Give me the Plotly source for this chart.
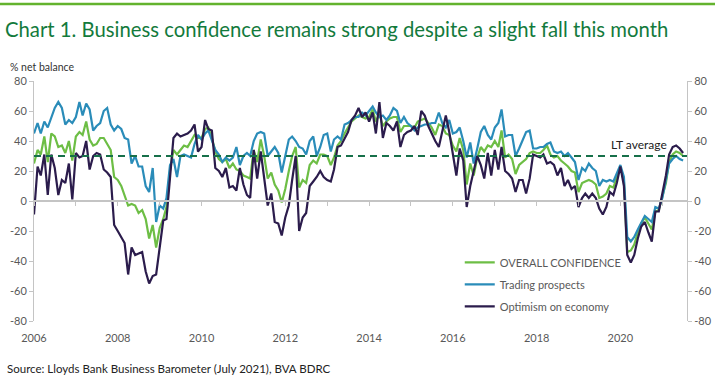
import plotly.graph_objects as go
import pandas as pd

# ---------------- data (monthly, Jan 2006 - Jul 2021) ----------------
months = pd.date_range("2006-01-01", "2021-07-01", freq="MS")

overall_confidence = [
    25, 34, 31, 43, 26, 45, 43, 36, 37, 32, 40, 27,      # 2006
    43, 46, 44, 53, 41, 37, 38, 42, 42, 38, 34, 16,      # 2007
    14, 10, 3, -3, -2, -3, -8, -6, -12, -25, -16, -31,   # 2008
    -18, -12, -4, 20, 34, 31, 34, 37, 36, 40, 44, 42,    # 2009
    42, 48, 49, 42, 33, 28, 26, 28, 22, 25, 21, 20,      # 2010
    17, 16, 15, 34, 26, 41, 30, 15, 19, 11, 7, -1,       # 2011
    8, 20, 30, 36, 9, 14, 12, 24, 27, 25, 31, 31,        # 2012
    30, 24, 29, 37, 40, 45, 49, 53, 55, 57, 56, 55,      # 2013
    56, 61, 53, 58, 50, 53, 55, 56, 56, 46, 50, 50,      # 2014
    50, 49, 53, 54, 55, 52, 49, 44, 51, 50, 45, 44,      # 2015
    37, 33, 42, 34, 11, 25, 17, 29, 36, 33, 37, 36,      # 2016
    40, 36, 47, 29, 31, 28, 18, 24, 26, 28, 32, 33,      # 2017
    32, 32, 34, 37, 31, 29, 30, 27, 25, 23, 20, 19,      # 2018
    6, 12, 13, 14, 13, 11, 2, 3, 5, 10, 9, 16,           # 2019
    23, 13, -34, -33, -29, -21, -15, -11, -15, -19, -7, -6,  # 2020
    3, 12, 26, 31, 33, 32, 30,                           # 2021
]

trading_prospects = [
    45, 52, 45, 53, 49, 56, 62, 66, 62, 51, 54, 52,
    56, 66, 57, 65, 61, 47, 50, 52, 60, 62, 51, 47,
    50, 48, 42, 41, 25, 30, 23, 23, 10, 6, 22, -14,
    -3, -5, 2, 24, 28, 16, 30, 31, 30, 29, 38, 44,
    41, 45, 47, 40, 34, 31, 26, 29, 27, 29, 36, 24,
    30, 32, 30, 40, 45, 46, 45, 30, 33, 36, 32, 19,
    30, 41, 43, 40, 36, 35, 31, 40, 43, 30, 36, 44,
    45, 33, 41, 43, 41, 51, 52, 54, 56, 56, 59, 57,
    60, 63, 59, 56, 57, 54, 57, 62, 60, 52, 56, 52,
    50, 47, 49, 50, 51, 51, 52, 52, 59, 52, 49, 54,
    45, 46, 49, 40, 29, 39, 25, 35, 46, 50, 44, 41,
    49, 52, 61, 43, 44, 44, 30, 35, 41, 46, 47, 35,
    35, 36, 36, 38, 39, 33, 32, 33, 30, 32, 29, 26,
    14, 22, 20, 25, 22, 20, 10, 14, 13, 14, 13, 19,
    24, 16, -24, -27, -24, -19, -14, -10, -12, -14, -4, -5,
    2, 13, 25, 28, 30, 28, 27,
]

optimism_economy = [
    -9, 23, 17, 31, 4, 31, 22, 4, 14, 12, 25, 1,
    32, 29, 30, 40, 21, 30, 32, 31, 21, 19, 16, -16,
    -20, -24, -28, -49, -31, -36, -35, -34, -47, -55, -50, -49,
    -31, -13, -12, 15, 42, 45, 43, 44, 45, 47, 51, 33,
    36, 54, 48, 47, 22, 20, 16, 22, 9, 10, 7, 22,
    11, 4, 2, 34, 15, 33, 17, -3, 5, -14, -15, -23,
    -11, -3, 14, 30, -20, -11, -8, 10, 13, 16, 20, 16,
    14, 13, 21, 36, 37, 42, 46, 54, 57, 62, 56, 59,
    53, 59, 45, 66, 42, 52, 50, 47, 53, 36, 44, 46,
    47, 50, 44, 60, 57, 50, 45, 40, 36, 46, 57, 46,
    31, 17, 35, 27, -4, 10, 20, 30, 24, 15, 32, 17,
    34, 21, 36, 20, 18, 15, 6, 14, 14, 5, 15, 31,
    30, 29, 31, 25, 26, 24, 17, 22, 10, 14, 8, 10,
    -4, 2, 5, 2, 5, 2, -5, -9, -4, 6, 4, 12,
    23, 10, -36, -41, -36, -25, -17, -14, -21, -27, -7, -7,
    5, 17, 31, 36, 37, 35, 32,
]

lt_average = 30
y_ticks = [-80, -60, -40, -20, 0, 20, 40, 60, 80]
y_tick_text = [str(v) for v in y_ticks]
year_ticks = [f"{y}-01-01" for y in range(2006, 2022)]
label_years = ["2006", "2008", "2010", "2012", "2014", "2016", "2018", "2020"]

x_range = ["2006-01-01", "2021-08-04"]

# ---------------- styling ----------------
FONT = "Lato, 'Open Sans', sans-serif"
C_OVERALL = "#6dbe45"
C_TRADING = "#2a8cb9"
C_OPTIM = "#2b1c4c"
C_LT = "#17704a"
C_AXIS = "#c4c4c4"
C_TICKTXT = "#595959"

fig = go.Figure()
fig.add_trace(go.Scatter(x=months, y=overall_confidence, name="OVERALL CONFIDENCE",
                         mode="lines", line=dict(color=C_OVERALL, width=2.2),
                         legendgroup="a"))
fig.add_trace(go.Scatter(x=months, y=trading_prospects, name="Trading prospects",
                         mode="lines", line=dict(color=C_TRADING, width=2.2),
                         legendgroup="b"))
fig.add_trace(go.Scatter(x=months, y=optimism_economy, name="Optimism on economy",
                         mode="lines", line=dict(color=C_OPTIM, width=2.2),
                         legendgroup="c", xaxis="x2", yaxis="y2"))

# LT average reference line
fig.add_shape(type="line", xref="x domain", x0=0, x1=1, yref="y",
              y0=lt_average, y1=lt_average, layer="above",
              line=dict(color=C_LT, width=2, dash="7px,5px"))
fig.add_annotation(text="LT average", xref="x", x="2020-06-15", yref="y", y=lt_average,
                   xanchor="center", yanchor="bottom", yshift=2, showarrow=False,
                   font=dict(family=FONT, size=12, color="#222222"))

axis_y = dict(range=[-80, 80], tickvals=y_ticks, ticktext=y_tick_text,
              ticks="outside", ticklen=4,
              tickcolor=C_AXIS, showline=True, linecolor=C_AXIS, linewidth=1,
              showgrid=False, zeroline=False,
              tickfont=dict(family=FONT, size=11, color=C_TICKTXT))

fig.update_layout(
    width=715, height=381,
    margin=dict(l=34, r=28, t=81, b=60, autoexpand=False),
    paper_bgcolor="white", plot_bgcolor="white",
    font=dict(family=FONT, color=C_TICKTXT),
    title=dict(text="Chart 1. Business confidence remains strong despite a slight fall this month",
               xref="container", yref="container", x=5 / 715, y=1 - 30 / 381,
               xanchor="left", yanchor="middle",
               font=dict(family=FONT, size=20.3, color="#137a3c")),
    xaxis=dict(type="date", range=x_range, anchor="free", position=0.5,
               showline=True, linecolor=C_AXIS, linewidth=1.5,
               ticks="outside", ticklen=4, tickcolor=C_AXIS, tickvals=year_ticks,
               showticklabels=False, showgrid=False, zeroline=False),
    xaxis2=dict(type="date", overlaying="x", matches="x", anchor="y", side="bottom",
                showline=False, showgrid=False, zeroline=False,
                ticks="outside", ticklen=7, tickcolor="rgba(0,0,0,0)",
                tickvals=[f"{y}-01-01" for y in label_years], ticktext=label_years,
                tickfont=dict(family=FONT, size=11, color=C_TICKTXT)),
    yaxis=dict(axis_y, side="left", anchor="x"),
    yaxis2=dict(axis_y, side="right", overlaying="y", matches="y", anchor="x"),
    legend=dict(x=0.652, y=0.305, xanchor="left", yanchor="top",
                bgcolor="rgba(0,0,0,0)", tracegroupgap=3, traceorder="grouped",
                font=dict(family=FONT, size=11, color=C_TICKTXT)),
    showlegend=True,
)

# top rule, y-axis caption and source
fig.add_shape(type="line", xref="paper", yref="paper",
              x0=-34 / 653, x1=681 / 653, y0=(321 - 4) / 240, y1=(321 - 4) / 240,
              line=dict(color="#63b32e", width=2.5))
fig.add_annotation(text="% net balance", xref="paper", yref="paper",
                   x=(8 - 34) / 653, y=(321 - 67) / 240, xanchor="left", yanchor="middle",
                   showarrow=False, font=dict(family=FONT, size=10.5, color="#333333"))
fig.add_annotation(text="Source: Lloyds Bank Business Barometer (July 2021), BVA BDRC",
                   xref="paper", yref="paper", x=(5 - 34) / 653, y=(321 - 368) / 240,
                   xanchor="left", yanchor="middle", showarrow=False,
                   font=dict(family=FONT, size=11.5, color="#222222"))

fig.write_html("out.html", config={"displayModeBar": False},
               post_script="document.body.style.margin='0';")
